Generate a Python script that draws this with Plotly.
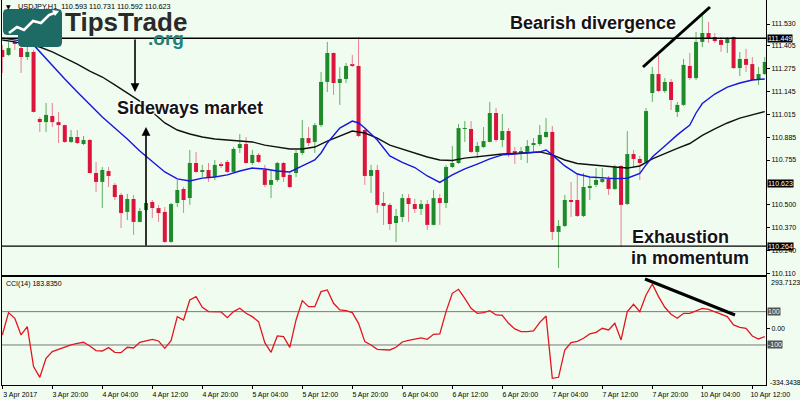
import plotly.graph_objects as go

# ---------------- data ----------------
tick_bars = [0, 8, 16, 24, 32, 40, 48, 56, 64, 72, 80, 88, 96, 104, 112, 120]
tick_labels = ["3 Apr 2017", "3 Apr 20:00", "4 Apr 04:00", "4 Apr 12:00", "4 Apr 20:00",
               "5 Apr 04:00", "5 Apr 12:00", "5 Apr 20:00", "6 Apr 04:00", "6 Apr 12:00",
               "6 Apr 20:00", "7 Apr 04:00", "7 Apr 12:00", "7 Apr 20:00", "10 Apr 04:00",
               "10 Apr 12:00"]

opens = [111.382, 111.354, 111.428, 111.393, 111.342, 111.371, 110.989, 110.971, 111.006, 110.971,
         110.954, 110.858, 110.886, 110.846, 110.869, 110.681, 110.630, 110.692, 110.613, 110.556,
         110.459, 110.533, 110.402, 110.470, 110.516, 110.481, 110.459, 110.288, 110.510, 110.590,
         110.538, 110.738, 110.687, 110.698, 110.658, 110.727, 110.744, 110.687, 110.823, 110.846,
         110.738, 110.784, 110.698, 110.613, 110.641, 110.738, 110.670, 110.681, 110.795, 110.880,
         110.858, 110.954, 111.200, 111.365, 111.194, 111.217, 111.297, 111.291, 110.926, 110.664,
         110.698, 110.510, 110.499, 110.396, 110.430, 110.538, 110.504, 110.476, 110.504, 110.385,
         110.538, 110.510, 110.715, 110.738, 110.932, 110.932, 110.801, 110.829, 110.858, 111.023,
         110.869, 110.920, 110.801, 110.795, 110.801, 110.840, 110.846, 110.886, 110.915, 110.345,
         110.379, 110.527, 110.527, 110.436, 110.595, 110.613, 110.630, 110.647, 110.590, 110.721,
         110.504, 110.789, 110.761, 110.744, 111.137, 111.245, 111.148, 111.200, 111.029, 111.069,
         111.291, 111.222, 111.428, 111.479, 111.456, 111.439, 111.422, 111.456, 111.279, 111.331,
         111.302, 111.211, 111.245]
highs = [111.411, 111.428, 111.439, 111.416, 111.399, 111.382, 111.000, 111.080, 111.080, 111.029,
         110.957, 110.926, 110.926, 110.892, 110.875, 110.744, 110.715, 110.715, 110.624, 110.567,
         110.561, 110.556, 110.481, 110.527, 110.527, 110.499, 110.487, 110.510, 110.641, 110.601,
         110.812, 110.801, 110.727, 110.738, 110.755, 110.744, 110.755, 110.829, 110.903, 110.886,
         110.812, 110.795, 110.727, 110.698, 110.744, 110.744, 110.681, 110.812, 110.983, 110.943,
         110.966, 111.257, 111.428, 111.368, 111.285, 111.308, 111.354, 111.456, 110.937, 110.727,
         110.727, 110.573, 110.510, 110.476, 110.561, 110.561, 110.533, 110.527, 110.527, 110.584,
         110.561, 110.727, 110.835, 110.960, 110.977, 110.977, 110.858, 110.943, 111.086, 111.051,
         111.017, 110.937, 110.829, 110.829, 110.869, 110.880, 110.954, 110.994, 110.949, 110.413,
         110.556, 110.630, 110.681, 110.681, 110.658, 110.709, 110.709, 110.664, 110.727, 110.727,
         110.920, 110.812, 110.778, 111.051, 111.285, 111.354, 111.222, 111.217, 111.086, 111.331,
         111.365, 111.485, 111.582, 111.542, 111.479, 111.456, 111.456, 111.459, 111.371, 111.388,
         111.342, 111.285, 111.342]
lows = [111.251, 111.348, 111.382, 111.251, 111.325, 111.026, 110.915, 110.915, 110.943, 110.852,
        110.852, 110.852, 110.846, 110.840, 110.678, 110.573, 110.481, 110.601, 110.527, 110.367,
        110.413, 110.328, 110.399, 110.459, 110.424, 110.402, 110.282, 110.282, 110.487, 110.453,
        110.499, 110.681, 110.658, 110.630, 110.641, 110.709, 110.681, 110.681, 110.795, 110.735,
        110.727, 110.738, 110.601, 110.538, 110.630, 110.630, 110.595, 110.658, 110.784, 110.835,
        110.795, 110.943, 111.143, 111.126, 111.069, 111.194, 111.285, 110.886, 110.613, 110.567,
        110.453, 110.385, 110.356, 110.288, 110.402, 110.402, 110.453, 110.442, 110.356, 110.382,
        110.385, 110.481, 110.709, 110.732, 110.858, 110.795, 110.766, 110.823, 110.855, 110.858,
        110.829, 110.772, 110.732, 110.755, 110.738, 110.801, 110.835, 110.880, 110.299, 110.139,
        110.373, 110.430, 110.430, 110.430, 110.527, 110.601, 110.624, 110.556, 110.584, 110.259,
        110.499, 110.709, 110.641, 110.738, 111.086, 111.143, 111.137, 111.040, 111.000, 111.063,
        111.211, 111.211, 111.399, 111.422, 111.422, 111.371, 111.365, 111.274, 111.234, 111.257,
        111.205, 111.183, 111.240]
closes = [111.342, 111.393, 111.416, 111.342, 111.371, 111.029, 110.971, 111.012, 110.971, 110.954,
          110.858, 110.886, 110.852, 110.869, 110.681, 110.630, 110.698, 110.664, 110.544, 110.453,
          110.533, 110.402, 110.464, 110.510, 110.481, 110.453, 110.288, 110.504, 110.584, 110.527,
          110.738, 110.687, 110.698, 110.652, 110.727, 110.721, 110.687, 110.818, 110.846, 110.738,
          110.784, 110.744, 110.613, 110.641, 110.738, 110.658, 110.601, 110.795, 110.880, 110.852,
          110.954, 111.200, 111.365, 111.194, 111.217, 111.291, 111.291, 110.892, 110.664, 110.698,
          110.499, 110.493, 110.390, 110.436, 110.538, 110.504, 110.476, 110.504, 110.385, 110.538,
          110.510, 110.715, 110.738, 110.937, 110.937, 110.801, 110.835, 110.863, 111.023, 110.869,
          110.920, 110.789, 110.795, 110.806, 110.835, 110.852, 110.898, 110.915, 110.345, 110.379,
          110.527, 110.516, 110.436, 110.601, 110.607, 110.641, 110.647, 110.590, 110.715, 110.499,
          110.789, 110.761, 110.738, 111.034, 111.245, 111.148, 111.200, 111.097, 111.069, 111.297,
          111.222, 111.428, 111.479, 111.450, 111.433, 111.411, 111.450, 111.279, 111.331, 111.297,
          111.211, 111.245, 111.314]

ma_fast_bars = [0, 2, 4, 5, 6, 8, 10, 12, 14, 16, 18, 20, 22, 24, 26, 28, 30, 32, 34, 36, 38, 40,
                42, 44, 46, 48, 50, 51, 52, 54, 56, 57, 58, 60, 62, 64, 66, 68, 70, 72, 74, 76, 78,
                80, 82, 84, 86, 87, 88, 90, 92, 94, 96, 98, 100, 101, 102, 103, 104, 106, 108, 110,
                111, 112, 114, 116, 118, 120, 122]
ma_fast = [111.450, 111.439, 111.428, 111.411, 111.371, 111.297, 111.217, 111.143, 111.069, 111.000,
           110.937, 110.875, 110.806, 110.744, 110.687, 110.647, 110.635, 110.652, 110.658, 110.670,
           110.692, 110.709, 110.704, 110.692, 110.687, 110.721, 110.755, 110.795, 110.852, 110.937,
           110.977, 110.966, 110.937, 110.869, 110.778, 110.741, 110.712, 110.664, 110.627, 110.670,
           110.704, 110.732, 110.761, 110.784, 110.789, 110.795, 110.801, 110.812, 110.784, 110.721,
           110.675, 110.658, 110.655, 110.649, 110.651, 110.664, 110.679, 110.727, 110.772, 110.835,
           110.898, 110.954, 111.023, 111.077, 111.131, 111.171, 111.194, 111.211, 111.217]

ma_slow_bars = [0, 2, 4, 6, 8, 10, 12, 14, 16, 18, 20, 22, 24, 26, 28, 30, 32, 34, 36, 38, 40, 42,
                44, 46, 48, 50, 52, 54, 56, 58, 60, 62, 64, 66, 68, 70, 72, 74, 76, 78, 80, 82, 84,
                86, 88, 90, 92, 94, 96, 98, 100, 102, 104, 106, 108, 110, 112, 114, 116, 118, 120,
                122]
ma_slow = [111.439, 111.428, 111.411, 111.399, 111.371, 111.336, 111.302, 111.262, 111.228, 111.183,
           111.137, 111.091, 111.029, 110.966, 110.926, 110.903, 110.886, 110.875, 110.869, 110.863,
           110.858, 110.840, 110.829, 110.818, 110.818, 110.829, 110.863, 110.892, 110.920, 110.909,
           110.880, 110.840, 110.818, 110.795, 110.772, 110.755, 110.752, 110.766, 110.775, 110.784,
           110.789, 110.792, 110.795, 110.801, 110.784, 110.755, 110.735, 110.727, 110.721, 110.715,
           110.709, 110.721, 110.761, 110.792, 110.821, 110.849, 110.895, 110.932, 110.966, 110.994,
           111.014, 111.031]

cci = [-40, 94, 60, -40, 10, -230, -294, -180, -140, -126,
       -114, -100, -90, -84, -106, -134, -136, -116, -144, -146,
       -114, -118, -84, -76, -66, -76, -120, -74, 70, 50,
       170, 190, 126, 100, 100, 98, 64, 100, 120, 90,
       70, 40, -86, -144, -46, -50, -114, 50, 166, 130,
       130, 220, 230, 150, 110, 106, 94, 30, -80, -100,
       -126, -130, -130, -114, -82, -72, -64, -58, -66, -36,
       -34, 100, 210, 234, 180, 120, 90, 94, 106, 80,
       78, 30, -4, -20, -20, -16, 36, 74, -300, -294,
       -130, -86, -78, -60, -34, -24, 0, -10, 30, -70,
       100, 144, 100, 200, 266, 190, 126, 84, 60, 90,
       90, 106, 120, 114, 100, 84, 70, 20, 6, 0,
       -46, -64, -50]

price_ticks = [111.530, 111.405, 111.275, 111.145, 111.015, 110.885, 110.755,
               110.500, 110.370, 110.240, 110.110]
level_prices = [111.449, 110.264]
current_price = 110.623
cci_levels = [100, -100]
cci_extremes = [293.7123, -334.3438]
header_text = "USDJPY,H1  110.593 110.731 110.592 110.623"
cci_label = "CCI(14) 183.8350"

# ---------------- styling / geometry ----------------
BG = "#f0fcef"
BULL, BEAR = "#1f8a2a", "#dc143c"
BULL_WICK, BEAR_WICK = "#5fb063", "#ea7f93"
FONT = "Liberation Sans"

X_LEFT_PX, X_RIGHT_PX, BOTTOM_PX = 2, 766, 385
PLOT_W = X_RIGHT_PX - X_LEFT_PX


def px(x):
    return (x - X_LEFT_PX) / PLOT_W


def py(y):
    return 1 - y / BOTTOM_PX


idx = list(range(len(opens)))
x_range = [-0.048, -0.048 + PLOT_W / 6.25]
y_range = [110.0995, 111.667]
cci_range = [-340.2, 307.8]
main_domain = [1 - 275 / BOTTOM_PX, 1]
cci_domain = [0, 108 / BOTTOM_PX]

fig = go.Figure()


def wicks(bull):
    xs, ys = [], []
    for i, (o, h, l, c) in enumerate(zip(opens, highs, lows, closes)):
        if (c >= o) == bull:
            top, bot = max(o, c), min(o, c)
            xs += [i, i, None, i, i, None]
            ys += [h, top, None, bot, l, None]
    return xs, ys


for bull, col in ((True, BULL_WICK), (False, BEAR_WICK)):
    wx, wy = wicks(bull)
    fig.add_trace(go.Scatter(x=wx, y=wy, mode="lines", line=dict(color=col, width=1),
                             hoverinfo="skip", xaxis="x", yaxis="y"))

fig.add_trace(go.Bar(
    x=idx,
    y=[max(abs(c - o), 0.0008) for o, c in zip(opens, closes)],
    base=[min(o, c) for o, c in zip(opens, closes)],
    width=0.64,
    marker=dict(color=[BULL if c >= o else BEAR for o, c in zip(opens, closes)], line=dict(width=0)),
    hoverinfo="skip", xaxis="x", yaxis="y"))

fig.add_trace(go.Scatter(x=ma_slow_bars, y=ma_slow, mode="lines",
                         line=dict(color="#111111", width=1.4), hoverinfo="skip"))
fig.add_trace(go.Scatter(x=ma_fast_bars, y=ma_fast, mode="lines",
                         line=dict(color="#1616e0", width=1.4), hoverinfo="skip"))

fig.add_trace(go.Scatter(x=idx, y=cci, mode="lines", line=dict(color="#e3151f", width=1.3),
                         xaxis="x2", yaxis="y2", hoverinfo="skip"))

small = dict(family=FONT, size=7, color="#000")

fig.update_layout(
    width=800, height=400,
    margin=dict(l=X_LEFT_PX, r=800 - X_RIGHT_PX, t=0, b=400 - BOTTOM_PX),
    paper_bgcolor=BG, plot_bgcolor=BG,
    showlegend=False, hovermode=False,
    xaxis=dict(domain=[0, 1], anchor="y", range=x_range, showticklabels=False, ticks="",
               showgrid=False, zeroline=False, showline=True, linecolor="#000", linewidth=1),
    yaxis=dict(domain=main_domain, anchor="x", side="right", range=y_range,
               tickvals=price_ticks, ticktext=[f"{v:.3f}" for v in price_ticks],
               ticks="outside", ticklen=3, tickcolor="#000", tickfont=small,
               showgrid=False, zeroline=False, showline=True, mirror=True,
               linecolor="#000", linewidth=1),
    xaxis2=dict(domain=[0, 1], anchor="y2", range=x_range, matches="x",
                tickvals=tick_bars, ticktext=tick_labels, ticks="outside", ticklen=3,
                tickcolor="#000", tickfont=small, ticklabelshift=18,
                ticklabeloverflow="allow", showgrid=False, zeroline=False,
                showline=True, mirror=True, linecolor="#000", linewidth=1),
    yaxis2=dict(domain=cci_domain, anchor="x2", side="right", range=cci_range,
                tickvals=[0], ticktext=["0.00"], ticks="outside", ticklen=3,
                tickcolor="#000", tickfont=small, showgrid=False, zeroline=False,
                showline=True, mirror=True, linecolor="#000", linewidth=1),
)

shapes = []
# horizontal support / resistance lines
for lv in level_prices:
    shapes.append(dict(type="line", xref="x domain", x0=0, x1=1, yref="y", y0=lv, y1=lv,
                       line=dict(color="#000", width=1.4), layer="above"))
# CCI levels
for lv in cci_levels:
    shapes.append(dict(type="line", xref="x2 domain", x0=0, x1=1, yref="y2", y0=lv, y1=lv,
                       line=dict(color="#7a7a7a", width=1), layer="below"))
# divergence trend lines (pixel positions -> paper)
for (x0, y0, x1, y1) in [(643, 67, 710, 7), (645, 279, 735, 315)]:
    shapes.append(dict(type="line", xref="paper", yref="paper", x0=px(x0), y0=py(y0),
                       x1=px(x1), y1=py(y1), line=dict(color="#000", width=3), layer="above"))


def path(points, close=True):
    s = "M " + " L ".join(f"{px(x):.5f},{py(y):.5f}" for x, y in points)
    return s + (" Z" if close else "")


logo_pts = [(7, 9), (58, 9), (61, 10), (62, 13), (62, 43), (61, 46), (58, 47), (22, 47),
            (19, 46), (18, 43), (18, 35), (7, 35), (4, 34), (3, 31), (3, 13), (4, 10)]
shapes.append(dict(type="path", xref="paper", yref="paper", path=path(logo_pts),
                   fillcolor="#1e6b66", line=dict(width=0), layer="above"))
icon_pts = [(9, 33), (17, 27), (24, 30), (33, 21), (41, 23), (49, 15), (57, 12)]
shapes.append(dict(type="path", xref="paper", yref="paper", path=path(icon_pts, close=False),
                   line=dict(color="#ffffff", width=2.6), layer="above"))
icon_head = [(52, 10), (59, 11), (55, 16)]
shapes.append(dict(type="path", xref="paper", yref="paper", path=path(icon_head),
                   fillcolor="#ffffff", line=dict(width=0), layer="above"))
fig.update_layout(shapes=shapes)

ann = []
halo = "1px 1px 1px #ffffff, -1px -1px 1px #ffffff, 1px -1px 1px #ffffff, -1px 1px 1px #ffffff"
big = dict(family=FONT, size=18, color="#141414", shadow=halo)


def text(x, y, t, font, xanchor="left", **kw):
    d = dict(x=px(x), y=py(y), xref="paper", yref="paper", text=t, showarrow=False,
             xanchor=xanchor, yanchor="middle", font=font)
    d.update(kw)
    ann.append(d)


text(4, 6.5, "▼", dict(family="DejaVu Sans", size=6, color="#000"))
text(16, 6.5, header_text, dict(family=FONT, size=7.3, color="#000"))
text(63, 22.5, "<b>TipsTrade</b>", dict(family=FONT, size=26, color="#2a2a2a"))
text(146, 38.5, "<b>.org</b>", dict(family=FONT, size=19, color="#1f8078"))
text(189.5, 108.5, "<b>Sideways market</b>", big, xanchor="center")
text(593, 23, "<b>Bearish divergence</b>", big, xanchor="center")
text(630, 237, "<b>Exhaustion</b>", big)
text(629, 257.5, "<b>in momentum</b>", big)
text(4, 283.5, cci_label, dict(family=FONT, size=7, color="#000"))
text(769, 282, f"{cci_extremes[0]:.4f}", small)
text(768, 382, f"{cci_extremes[1]:.4f}", dict(family=FONT, size=6.8, color="#000"))

# arrows
ann.append(dict(x=px(135), y=py(92), xref="paper", yref="paper", text="", showarrow=True,
                ax=0, ay=-54, arrowhead=2, arrowsize=1.1, arrowwidth=1.6, arrowcolor="#000"))
ann.append(dict(x=px(146), y=py(127), xref="paper", yref="paper", text="", showarrow=True,
                ax=0, ay=120, arrowhead=2, arrowsize=1.1, arrowwidth=1.6, arrowcolor="#000"))

# boxed price labels on the right scale
for v in level_prices + [current_price]:
    ann.append(dict(x=px(767), y=v, xref="paper", yref="y", text=f"{v:.3f}", showarrow=False,
                    xanchor="left", yanchor="middle", bgcolor="#000", borderpad=0,
                    font=dict(family=FONT, size=7, color="#fff")))
for v in cci_levels:
    ann.append(dict(x=px(767), y=v, xref="paper", yref="y2", text=f"{v}", showarrow=False,
                    xanchor="left", yanchor="middle", bgcolor="#555555", borderpad=0,
                    font=dict(family=FONT, size=7, color="#fff")))

fig.update_layout(annotations=ann)

# remove the default 8px page margin so the 800x400 figure fills the window exactly
fig.write_html("out.html",
               config={"displayModeBar": False},
               post_script="document.body.style.margin='0';document.body.style.background='"
                           + BG + "';")
